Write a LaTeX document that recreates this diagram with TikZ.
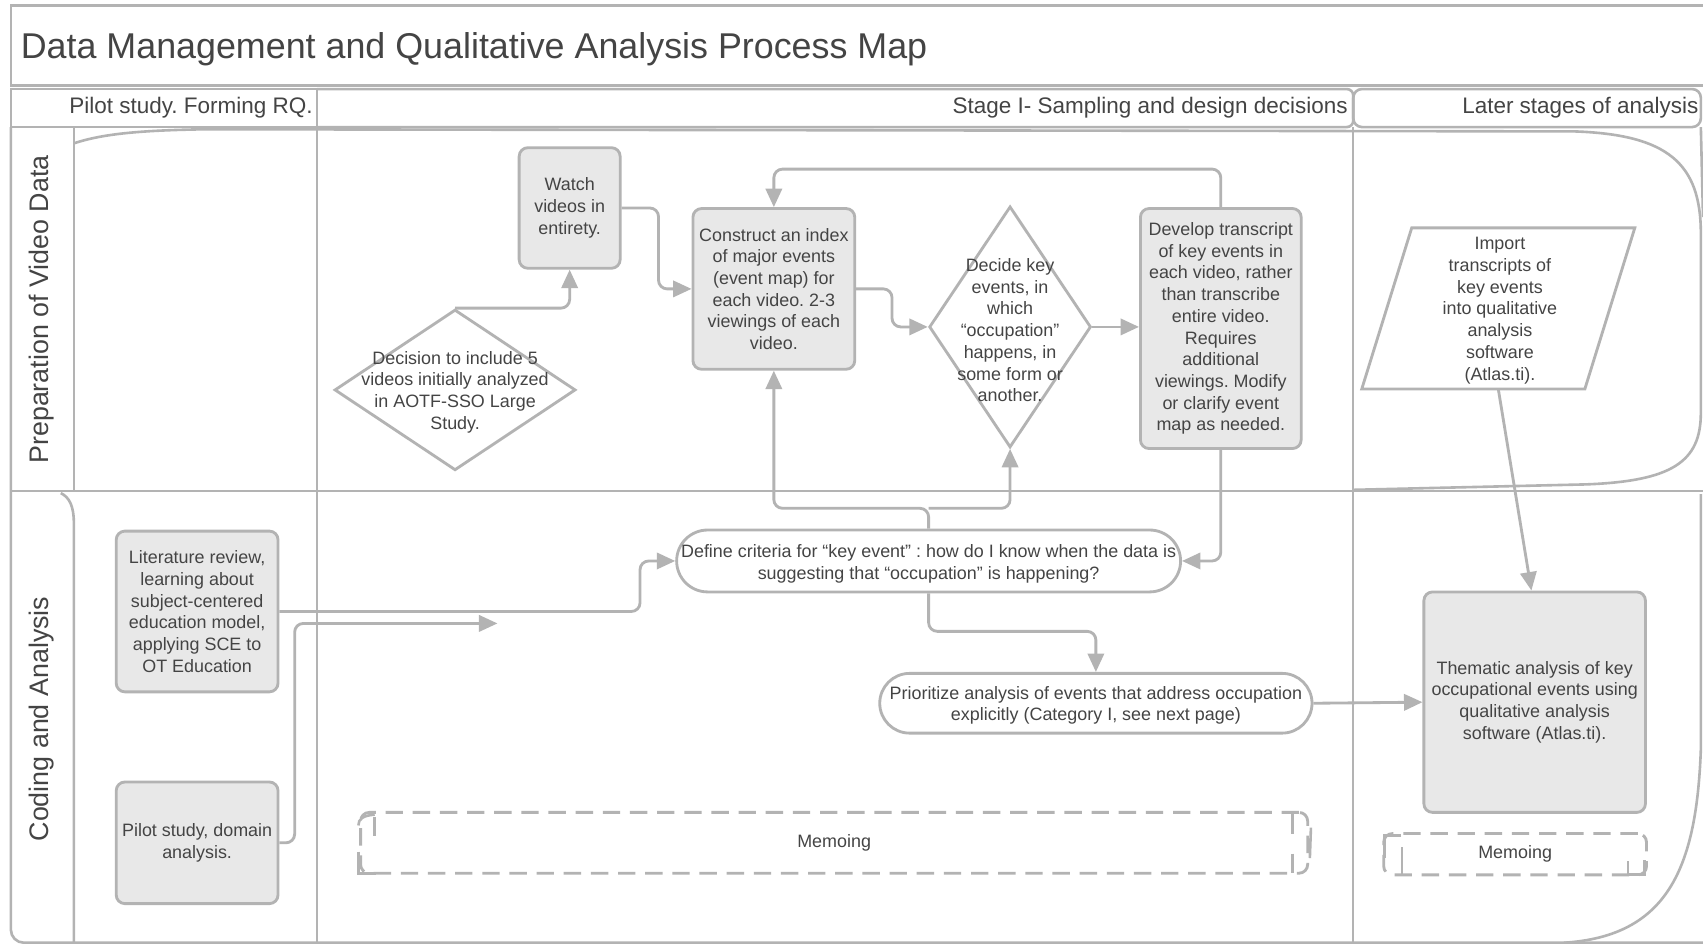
\documentclass[tikz,border=0pt]{standalone}
\usepackage{fontspec}
\setmainfont{Liberation Sans}
\usetikzlibrary{arrows.meta,shapes.geometric,shapes.misc,calc}
\definecolor{lineC}{HTML}{B3B3B3}
\definecolor{fillC}{HTML}{E8E8E8}
\definecolor{textC}{HTML}{444444}
\frenchspacing
\newcommand\mapbody{\fontsize{16.5}{20}\selectfont}
\newcommand\maphead{\fontsize{20.7}{24}\selectfont}
\newcommand\maplane{\fontsize{24.7}{28}\selectfont}
\newcommand\maptitle{\fontsize{33}{36}\selectfont}

\begin{document}
\begin{tikzpicture}[x=1pt,y=-1pt,
  frame/.style={draw=lineC, line width=2.4pt},
  procbox/.style={rectangle, draw=lineC, line width=2.6pt, fill=fillC, rounded corners=8pt,
    align=center, inner xsep=2pt, text=textC, font=\mapbody},
  term/.style={rounded rectangle, draw=lineC, line width=2.6pt, fill=white, inner sep=0pt},
  decide/.style={diamond, draw=lineC, line width=2.6pt, fill=white, inner sep=0pt},
  txt/.style={align=center, text=textC, font=\mapbody, inner sep=0pt},
  head/.style={anchor=east, text=textC, font=\maphead, inner sep=0pt},
  lanelabel/.style={rotate=90, text=textC, font=\maplane, inner sep=0pt},
  flow/.style={draw=lineC, line width=2.6pt, rounded corners=8pt,
    -{Triangle[length=17pt,width=15pt]}},
  memo/.style={rectangle, draw=lineC, line width=2.6pt, dash pattern=on 16pt off 9pt,
    rounded corners=8pt, text=textC, font=\mapbody},
  tick/.style={draw=lineC, line width=2.4pt},
]
\useasboundingbox (0,0) rectangle (1568,869);
\clip (0,0) rectangle (1568,869);
\fill[white] (0,0) rectangle (1568,869);

% ---- title bar ----
\draw[frame] (1600,5) -- (10,5) -- (10,79) -- (1600,79);
\node[anchor=west, text=textC, font=\maptitle, inner sep=0pt] (title) at (19,45)
  {Data Management and Qualitative Analysis Process Map};

% ---- phase header row ----
\draw[frame] (10,82) -- (292,82) -- (292,117) -- (10,117) -- cycle;
\draw[frame, rounded corners=6pt] (292,82) -- (1246,82) -- (1246,117) -- (292,117);
\draw[frame, rounded corners=8pt] (1246,117) -- (1246,82) -- (1566,82) -- (1566,117) -- cycle;
\node[head] (ph1) at (288,99.5) {Pilot study. Forming RQ.};
\node[head] (ph2) at (1241,99.5) {Stage I- Sampling and design decisions};
\node[head] (ph3) at (1564,99.5) {Later stages of analysis};

% ---- swimlanes ----
\draw[frame, rounded corners=12pt] (10,117) -- (10,868) -- (1600,868);
\draw[frame] (10,452) -- (1600,452);
\draw[frame] (68,117) -- (68,452);
\draw[frame] (56,454) .. controls (64,458) and (68,466) .. (68,482) -- (68,868);
\draw[frame, line width=2pt] (292,117) -- (292,868);
\draw[frame, line width=2pt] (1246,117) -- (1246,868);
% rounded outline of the upper lane
\draw[frame] (68,132) .. controls (95,123) and (130,120) .. (190,119) -- (1450,121)
  .. controls (1535,124) and (1566,150) .. (1566,215) -- (1566,380)
  .. controls (1566,425) and (1540,443) .. (1460,446) -- (1246,451);
% rounded corner of the lower lane
\draw[frame] (1566,455) -- (1566,690) .. controls (1562,800) and (1535,862) .. (1440,868);
\draw[frame] (1566,117) -- (1568,200);

\node[lanelabel] (lane1) at (38,285) {Preparation of Video Data};
\node[lanelabel] (lane2) at (38,662) {Coding and Analysis};

% ---- upper lane steps ----
\node[procbox, minimum width=93pt, minimum height=111pt] (watch) at (524.5,191.5)
  {Watch\\videos in\\entirety.};
\node[decide, minimum width=222pt, minimum height=148pt] (dec5) at (419,359) {};
\node[txt] (dec5t) at (419,361) {Decision to include 5\\videos initially analyzed\\in AOTF-SSO Large\\Study.};
\node[procbox, minimum width=149pt, minimum height=148pt] (index) at (712.5,266)
  {Construct an index\\of major events\\(event map) for\\each video. 2-3\\viewings of each\\video.};
\node[decide, minimum width=149pt, minimum height=222pt] (keydec) at (930,301) {};
\node[txt] (keydect) at (930,304) {Decide key\\events, in\\which\\“occupation”\\happens, in\\some form or\\another.};
\node[procbox, minimum width=148pt, minimum height=221pt] (trans) at (1124,302.5)
  {Develop transcript\\of key events in\\each video, rather\\than transcribe\\entire video.\\Requires\\additional\\viewings. Modify\\or clarify event\\map as needed.};
\node[inner sep=0pt, minimum width=205pt, minimum height=148pt] (import) at (1379.5,284) {};
\draw[draw=lineC, line width=2.6pt, fill=white]
  ($(import.north west)+(23,0)$) -- ($(import.north east)+(23,0)$)
  -- ($(import.south east)+(-23,0)$) -- ($(import.south west)+(-23,0)$) -- cycle;
\node[txt] (importt) at (1381,286) {Import\\transcripts of\\key events\\into qualitative\\analysis\\software\\(Atlas.ti).};

% ---- lower lane steps ----
\node[term, minimum width=464pt, minimum height=57pt] (define) at (855,516.5) {};
\node[txt] (definet) at (855,519) {Define criteria for “key event” : how do I know when the data is\\suggesting that “occupation” is happening?};
\node[term, minimum width=398pt, minimum height=55pt] (prior) at (1009,647.5) {};
\node[txt] (priort) at (1009,649.5) {Prioritize analysis of events that address occupation\\explicitly (Category I, see next page)};
\node[procbox, minimum width=149pt, minimum height=148pt] (lit) at (181.5,563)
  {Literature review,\\learning about\\subject-centered\\education model,\\applying SCE to\\OT Education};
\node[procbox, minimum width=149pt, minimum height=112pt] (pilot) at (181.5,776)
  {Pilot study, domain\\analysis.};
\node[procbox, minimum width=204pt, minimum height=203pt] (them) at (1413,646.5)
  {Thematic analysis of key\\occupational events using\\qualitative analysis\\software (Atlas.ti).};

% memo bands
\node[memo, minimum width=872pt, minimum height=56pt] (memo1) at (768,776) {Memoing};
\draw[tick] (345,752) -- (345,770);
\draw[tick] (330,760) .. controls (330,754) and (334,751) .. (345,750);
\draw[tick] (330,784) -- (330,804) -- (346,804);
\draw[tick] (1190,748) -- (1190,768);
\draw[tick] (1207,762) -- (1206,790);
\draw[tick] (1190,786) -- (1190,804);
\node[memo, minimum width=242pt, minimum height=38pt] (memo2) at (1395,786.5) {Memoing};
\draw[tick] (1290,769) -- (1275,769) -- (1275,790);
\draw[tick] (1291,780) -- (1291,805);
\draw[tick] (1499,793) -- (1499,805) -- (1514,805) -- (1514,792);

% ---- connectors ----
\draw[flow] (dec5.north) -| (watch.south);
\draw[flow] (watch.east) -- ++(34,0) |- (index.west);
\draw[flow] (index.east) -- ++(33,0) |- (keydec.west);
\draw[flow] (keydec.east) -- (keydec.east -| trans.west);
\draw[flow] (trans.north) -- ++(0,-35) -| (index.north);
\coordinate (split) at (855,468);
\draw[flow] (define.north) -- (split) -| (index.south);
\draw[flow] (split) -| (keydec.south);
\draw[flow] (trans.south) |- (define.east);
\draw[flow] (lit.east) -- ++(332,0) |- (define.west);
\coordinate (pilotend) at (458,574);
\draw[flow] (pilot.east) -- ++(14,0) |- (pilotend);
\draw[flow] (define.south) -- ++(0,35) -| (prior.north);
\draw[flow] (prior.east) -- (them.west);
\draw[flow] (import.south) -- ($(them.north)+(-3,0)$);
\end{tikzpicture}
\end{document}
